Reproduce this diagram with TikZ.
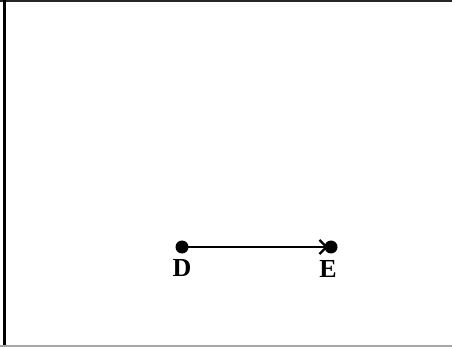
\documentclass[tikz,border=0pt]{standalone}
\usepackage{fontspec}
\setmainfont{Liberation Serif}
\usetikzlibrary{arrows.meta}
\begin{document}
\begin{tikzpicture}[x=1pt,y=-1pt,
  dot/.style={circle,fill=black,inner sep=0pt,minimum size=13pt},
  lbl/.style={font=\bfseries\fontsize{26}{26}\selectfont,inner sep=0pt},
  conn/.style={line width=2.4pt,-{Straight Barb[length=7pt,width=14pt,line width=2.2pt]}}]
\useasboundingbox (0,0) rectangle (452,347);
\draw[line width=2pt,black!85] (0,1) -- (452,1);
\draw[line width=3pt,black] (4.5,0) -- (4.5,347);
\draw[line width=2pt,black!35] (0,346) -- (452,346);
\node[dot] (D) at (182,247) {};
\node[dot] (E) at (331,247) {};
\node[lbl] (Dl) at (182,268.5) {D};
\node[lbl] (El) at (328,268.5) {E};
\draw[conn] (D.center) -- ([xshift=-3pt]E.center);
\end{tikzpicture}
\end{document}
